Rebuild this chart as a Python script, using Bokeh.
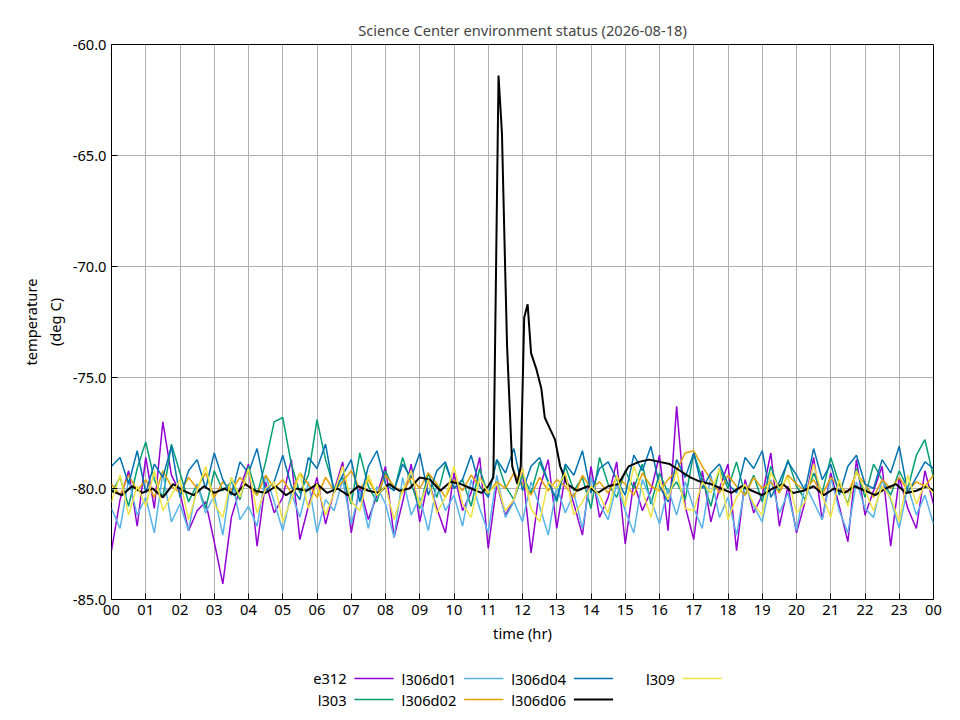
from bokeh.plotting import figure
from bokeh.layouts import column
from bokeh.models import FixedTicker, Range1d
from bokeh.embed import file_html
from bokeh.resources import INLINE
from bokeh.core.properties import value
import numpy as np

names = ["e312", "l303", "l306d01", "l306d02", "l306d04", "l306d06", "l309"]
colors = ["#9400d3", "#009e73", "#56b4e9", "#e69f00", "#0072b2", "#000000", "#f0e442"]

e312 = [-82.8,-80.5,-79.2,-81.7,-78.6,-80.9,-77.0,-79.4,-80.2,-81.9,-81.0,-80.6,-82.4,-84.3,-81.3,-80.0,-78.9,-82.6,-79.7,-81.1,-80.4,-78.7,-82.3,-80.8,-79.5,-81.6,-80.1,-78.8,-82.0,-79.9,-81.4,-80.3,-79.0,-82.2,-80.6,-78.9,-81.5,-79.6,-80.9,-82.0,-79.3,-81.0,-80.2,-78.6,-82.7,-79.8,-81.2,-80.5,-79.1,-82.9,-80.0,-78.7,-81.8,-79.4,-80.7,-82.1,-79.0,-81.3,-80.4,-78.8,-82.5,-79.7,-81.0,-80.1,-78.5,-81.9,-76.3,-80.8,-82.3,-79.2,-81.5,-80.0,-78.9,-82.8,-79.6,-81.1,-80.3,-78.4,-81.7,-79.9,-82.0,-80.6,-78.6,-81.4,-79.3,-80.8,-82.4,-78.7,-81.2,-80.1,-79.0,-82.6,-79.5,-80.9,-81.8,-79.2,-80.7]
l303 = [-80.2,-79.5,-80.8,-79.1,-77.9,-79.6,-80.4,-78.0,-79.3,-80.6,-79.8,-80.9,-79.2,-80.1,-79.7,-80.5,-79.0,-80.3,-78.8,-77.0,-76.8,-78.9,-80.2,-79.4,-76.9,-78.7,-80.0,-79.5,-80.7,-78.4,-79.9,-80.6,-79.2,-80.1,-78.6,-79.8,-80.9,-79.3,-80.4,-78.9,-80.0,-79.6,-80.8,-79.1,-80.3,-78.7,-79.9,-80.5,-79.4,-80.2,-78.8,-79.7,-80.6,-79.0,-80.1,-79.5,-80.9,-78.6,-79.8,-80.4,-79.2,-80.0,-78.9,-80.7,-79.3,-80.2,-79.7,-80.5,-78.4,-79.6,-80.8,-79.1,-80.0,-78.8,-80.3,-79.4,-80.6,-79.0,-80.1,-78.7,-79.9,-80.5,-79.3,-80.2,-78.6,-79.8,-80.7,-79.1,-80.4,-78.9,-79.6,-80.3,-79.2,-80.0,-78.5,-77.8,-79.5]
l306d01 = [-80.9,-81.8,-79.6,-81.2,-80.4,-82.0,-79.3,-81.5,-80.7,-81.9,-79.8,-81.1,-80.3,-82.1,-79.5,-81.4,-80.8,-81.7,-79.4,-80.6,-81.9,-80.2,-81.3,-79.7,-82.0,-80.5,-81.0,-79.6,-81.6,-80.1,-81.8,-79.9,-80.7,-82.2,-79.5,-81.2,-80.4,-81.9,-79.8,-81.0,-80.3,-81.7,-79.6,-80.9,-82.0,-79.4,-81.3,-80.6,-81.5,-79.7,-80.8,-82.1,-79.9,-81.1,-80.2,-81.8,-79.5,-80.7,-81.4,-79.8,-81.0,-82.0,-79.6,-80.5,-81.6,-80.0,-81.2,-79.7,-80.9,-81.8,-79.4,-81.3,-80.4,-82.1,-79.9,-80.8,-81.5,-79.6,-81.1,-80.2,-81.9,-79.8,-80.6,-81.4,-79.5,-81.0,-82.0,-79.7,-80.9,-81.3,-79.6,-80.5,-81.8,-79.9,-81.2,-80.3,-81.6]
l306d02 = [-79.8,-80.3,-79.4,-80.1,-79.6,-80.4,-79.2,-79.9,-80.2,-79.5,-80.0,-79.3,-80.4,-79.7,-80.1,-79.5,-79.9,-80.3,-79.4,-80.0,-79.6,-80.2,-79.3,-79.8,-80.4,-79.5,-80.1,-79.7,-79.2,-80.0,-79.6,-80.3,-79.4,-79.9,-80.2,-79.5,-80.0,-79.3,-79.8,-80.4,-79.6,-80.1,-79.4,-79.9,-80.2,-79.7,-80.0,-79.3,-79.8,-80.3,-79.5,-80.1,-79.6,-79.9,-80.4,-79.4,-80.0,-79.7,-80.2,-79.5,-79.8,-80.3,-79.3,-79.9,-80.1,-79.6,-79.2,-78.4,-78.3,-79.0,-79.6,-80.2,-79.4,-79.9,-80.3,-79.5,-80.0,-79.7,-80.2,-79.4,-79.8,-80.1,-79.6,-80.3,-79.5,-79.9,-80.2,-79.3,-79.8,-80.4,-79.6,-80.0,-79.5,-80.1,-79.7,-79.9,-79.4]
l306d04 = [-79.0,-78.6,-79.8,-78.3,-80.2,-78.9,-79.5,-78.1,-80.4,-79.2,-78.7,-80.0,-78.4,-79.6,-80.3,-78.8,-79.3,-78.2,-80.1,-79.7,-78.5,-79.9,-80.5,-78.6,-79.1,-78.0,-80.2,-79.4,-78.7,-80.6,-79.0,-78.3,-79.8,-80.1,-78.9,-79.5,-78.4,-80.3,-79.2,-78.8,-80.0,-79.6,-78.5,-79.9,-80.4,-78.7,-79.3,-78.2,-80.1,-79.0,-78.6,-79.7,-80.5,-78.9,-79.4,-78.3,-80.2,-79.1,-78.8,-79.6,-80.3,-78.5,-79.2,-78.1,-79.9,-80.6,-78.7,-79.5,-78.4,-80.0,-79.3,-78.9,-79.8,-80.2,-78.6,-79.1,-78.3,-80.4,-79.7,-78.8,-79.4,-80.1,-78.2,-79.6,-78.9,-80.3,-79.0,-78.5,-79.8,-80.0,-78.7,-79.3,-78.1,-80.2,-79.5,-78.8,-79.1]
l309 = [-80.6,-79.4,-81.2,-79.9,-80.8,-79.2,-81.0,-80.3,-79.6,-81.4,-80.1,-79.0,-80.7,-81.3,-79.5,-80.4,-79.1,-81.1,-80.0,-79.7,-81.5,-80.5,-79.3,-80.9,-79.8,-81.2,-80.2,-79.0,-80.6,-81.0,-79.4,-80.3,-79.9,-81.4,-80.1,-79.2,-80.8,-79.6,-81.1,-80.4,-79.0,-80.7,-81.3,-79.5,-80.2,-79.8,-81.0,-80.5,-79.1,-80.9,-81.5,-79.7,-80.0,-79.3,-81.2,-80.6,-79.9,-80.3,-81.1,-79.4,-80.8,-79.0,-80.1,-81.3,-79.6,-80.5,-79.2,-80.9,-81.0,-79.7,-80.2,-79.1,-81.4,-80.4,-79.8,-80.7,-81.2,-79.3,-80.0,-79.5,-81.1,-80.6,-78.9,-80.3,-81.3,-79.6,-80.8,-79.2,-80.1,-81.0,-79.9,-80.4,-81.5,-79.4,-80.7,-79.8,-80.2]

l306d06_t = [0,0.3,0.6,0.9,1.2,1.5,1.8,2.1,2.4,2.7,3.0,3.3,3.6,3.9,4.2,4.5,4.8,5.1,5.4,5.7,6.0,6.3,6.6,6.9,7.2,7.5,7.8,8.1,8.4,8.7,9.0,9.3,9.6,9.9,10.2,10.5,10.8,11.0,11.15,11.3,11.4,11.5,11.55,11.7,11.85,11.95,12.05,12.15,12.25,12.4,12.55,12.65,12.8,12.95,13.1,13.3,13.6,13.9,14.2,14.5,14.8,15.1,15.4,15.7,16.0,16.3,16.6,16.9,17.2,17.5,17.8,18.1,18.4,18.7,19.0,19.3,19.6,19.9,20.2,20.5,20.8,21.1,21.4,21.7,22.0,22.3,22.6,22.9,23.2,23.5,23.8,24.0]
l306d06 = [-80.1,-80.3,-79.9,-80.2,-80.0,-80.4,-79.8,-80.1,-80.3,-79.9,-80.2,-80.0,-80.3,-79.8,-80.1,-80.2,-79.9,-80.3,-80.0,-80.1,-79.8,-80.2,-80.0,-80.3,-79.9,-80.1,-80.2,-79.8,-80.1,-80.0,-79.5,-79.6,-80.1,-79.7,-79.8,-80.0,-80.2,-79.9,-79.5,-61.4,-64.0,-70.5,-73.6,-79.0,-79.8,-79.0,-72.3,-71.7,-73.9,-74.6,-75.5,-76.8,-77.3,-77.8,-79.0,-79.8,-80.1,-79.9,-80.2,-79.9,-79.8,-79.0,-78.8,-78.7,-78.8,-78.9,-79.2,-79.5,-79.7,-79.8,-80.0,-80.2,-79.9,-80.1,-80.3,-80.0,-79.8,-80.2,-80.1,-79.9,-80.3,-80.0,-80.2,-79.9,-80.1,-80.3,-80.0,-79.8,-80.2,-80.1,-79.9,-80.1]

hour_labels = ["00","01","02","03","04","05","06","07","08","09","10","11","12","13","14","15","16","17","18","19","20","21","22","23","00"]
y_ticks = [-85, -80, -75, -70, -65, -60]

FONT = "Noto Sans"
p = figure(width=944, height=665, output_backend="svg", toolbar_location=None,
           x_range=Range1d(0, 24), y_range=Range1d(-85, -60),
           min_border_left=111, min_border_right=11, min_border_top=44, min_border_bottom=66,
           title="Science Center environment status (2026-08-18)")
p.title.align = "center"
p.title.text_font = FONT
p.title.text_font_size = "11pt"
p.title.text_font_style = "normal"
p.title.offset = 8
p.outline_line_color = "black"
p.outline_line_width = 1
p.background_fill_color = "white"
p.xaxis.ticker = FixedTicker(ticks=list(range(25)))
p.xaxis.major_label_overrides = {i: hour_labels[i] for i in range(25)}
p.yaxis.ticker = FixedTicker(ticks=y_ticks)
p.yaxis.major_label_overrides = {v: f"{v:.1f}" for v in y_ticks}
for ax in (p.xaxis[0], p.yaxis[0]):
    ax.major_label_text_font = FONT
    ax.major_label_text_font_size = "11pt"
    ax.major_label_text_color = "black"
    ax.axis_label_text_font = FONT
    ax.axis_label_text_font_size = "11pt"
    ax.axis_label_text_font_style = "normal"
    ax.axis_label_text_color = "black"
    ax.axis_line_color = None
    ax.major_tick_in = 6
    ax.major_tick_out = 0
    ax.minor_tick_line_color = None
p.xaxis.axis_label = "time (hr)"
p.yaxis.axis_label = "temperature\n(deg C)"
p.grid.grid_line_color = "#b0b0b0"
p.grid.grid_line_alpha = 1.0

series = [e312, l303, l306d01, l306d02, l306d04, None, l309]
for name, col, ys in zip(names, colors, series):
    if ys is None:
        n = min(len(l306d06_t), len(l306d06))
        p.line(l306d06_t[:n], l306d06[:n], line_color=col, line_width=2)
    else:
        xs = np.linspace(0, 24, len(ys))
        p.line(xs, ys, line_color=col, line_width=1.5)

# legend figure (gnuplot style: label then line sample)
lg = figure(width=944, height=47, output_backend="svg", toolbar_location=None,
            x_range=Range1d(0, 944), y_range=Range1d(0, 47), min_border=0)
lg.axis.visible = False
lg.grid.visible = False
lg.outline_line_color = None
text_right = [270, 396, 522, 647]
rows_y = [34, 13]
for i, (name, col) in enumerate(zip(names, colors)):
    c, r = divmod(i, 2)
    xr, yy = text_right[c], rows_y[r]
    lg.text([xr], [yy], text=[name], text_align="right", text_baseline="middle",
            text_font=value(FONT), text_font_size="11pt", text_color="black")
    lg.line([xr + 9, xr + 54], [yy, yy], line_color=col, line_width=2 if col == "#000000" else 1.5)

open("out.html", "w").write(file_html(column(p, lg, spacing=0), INLINE))
